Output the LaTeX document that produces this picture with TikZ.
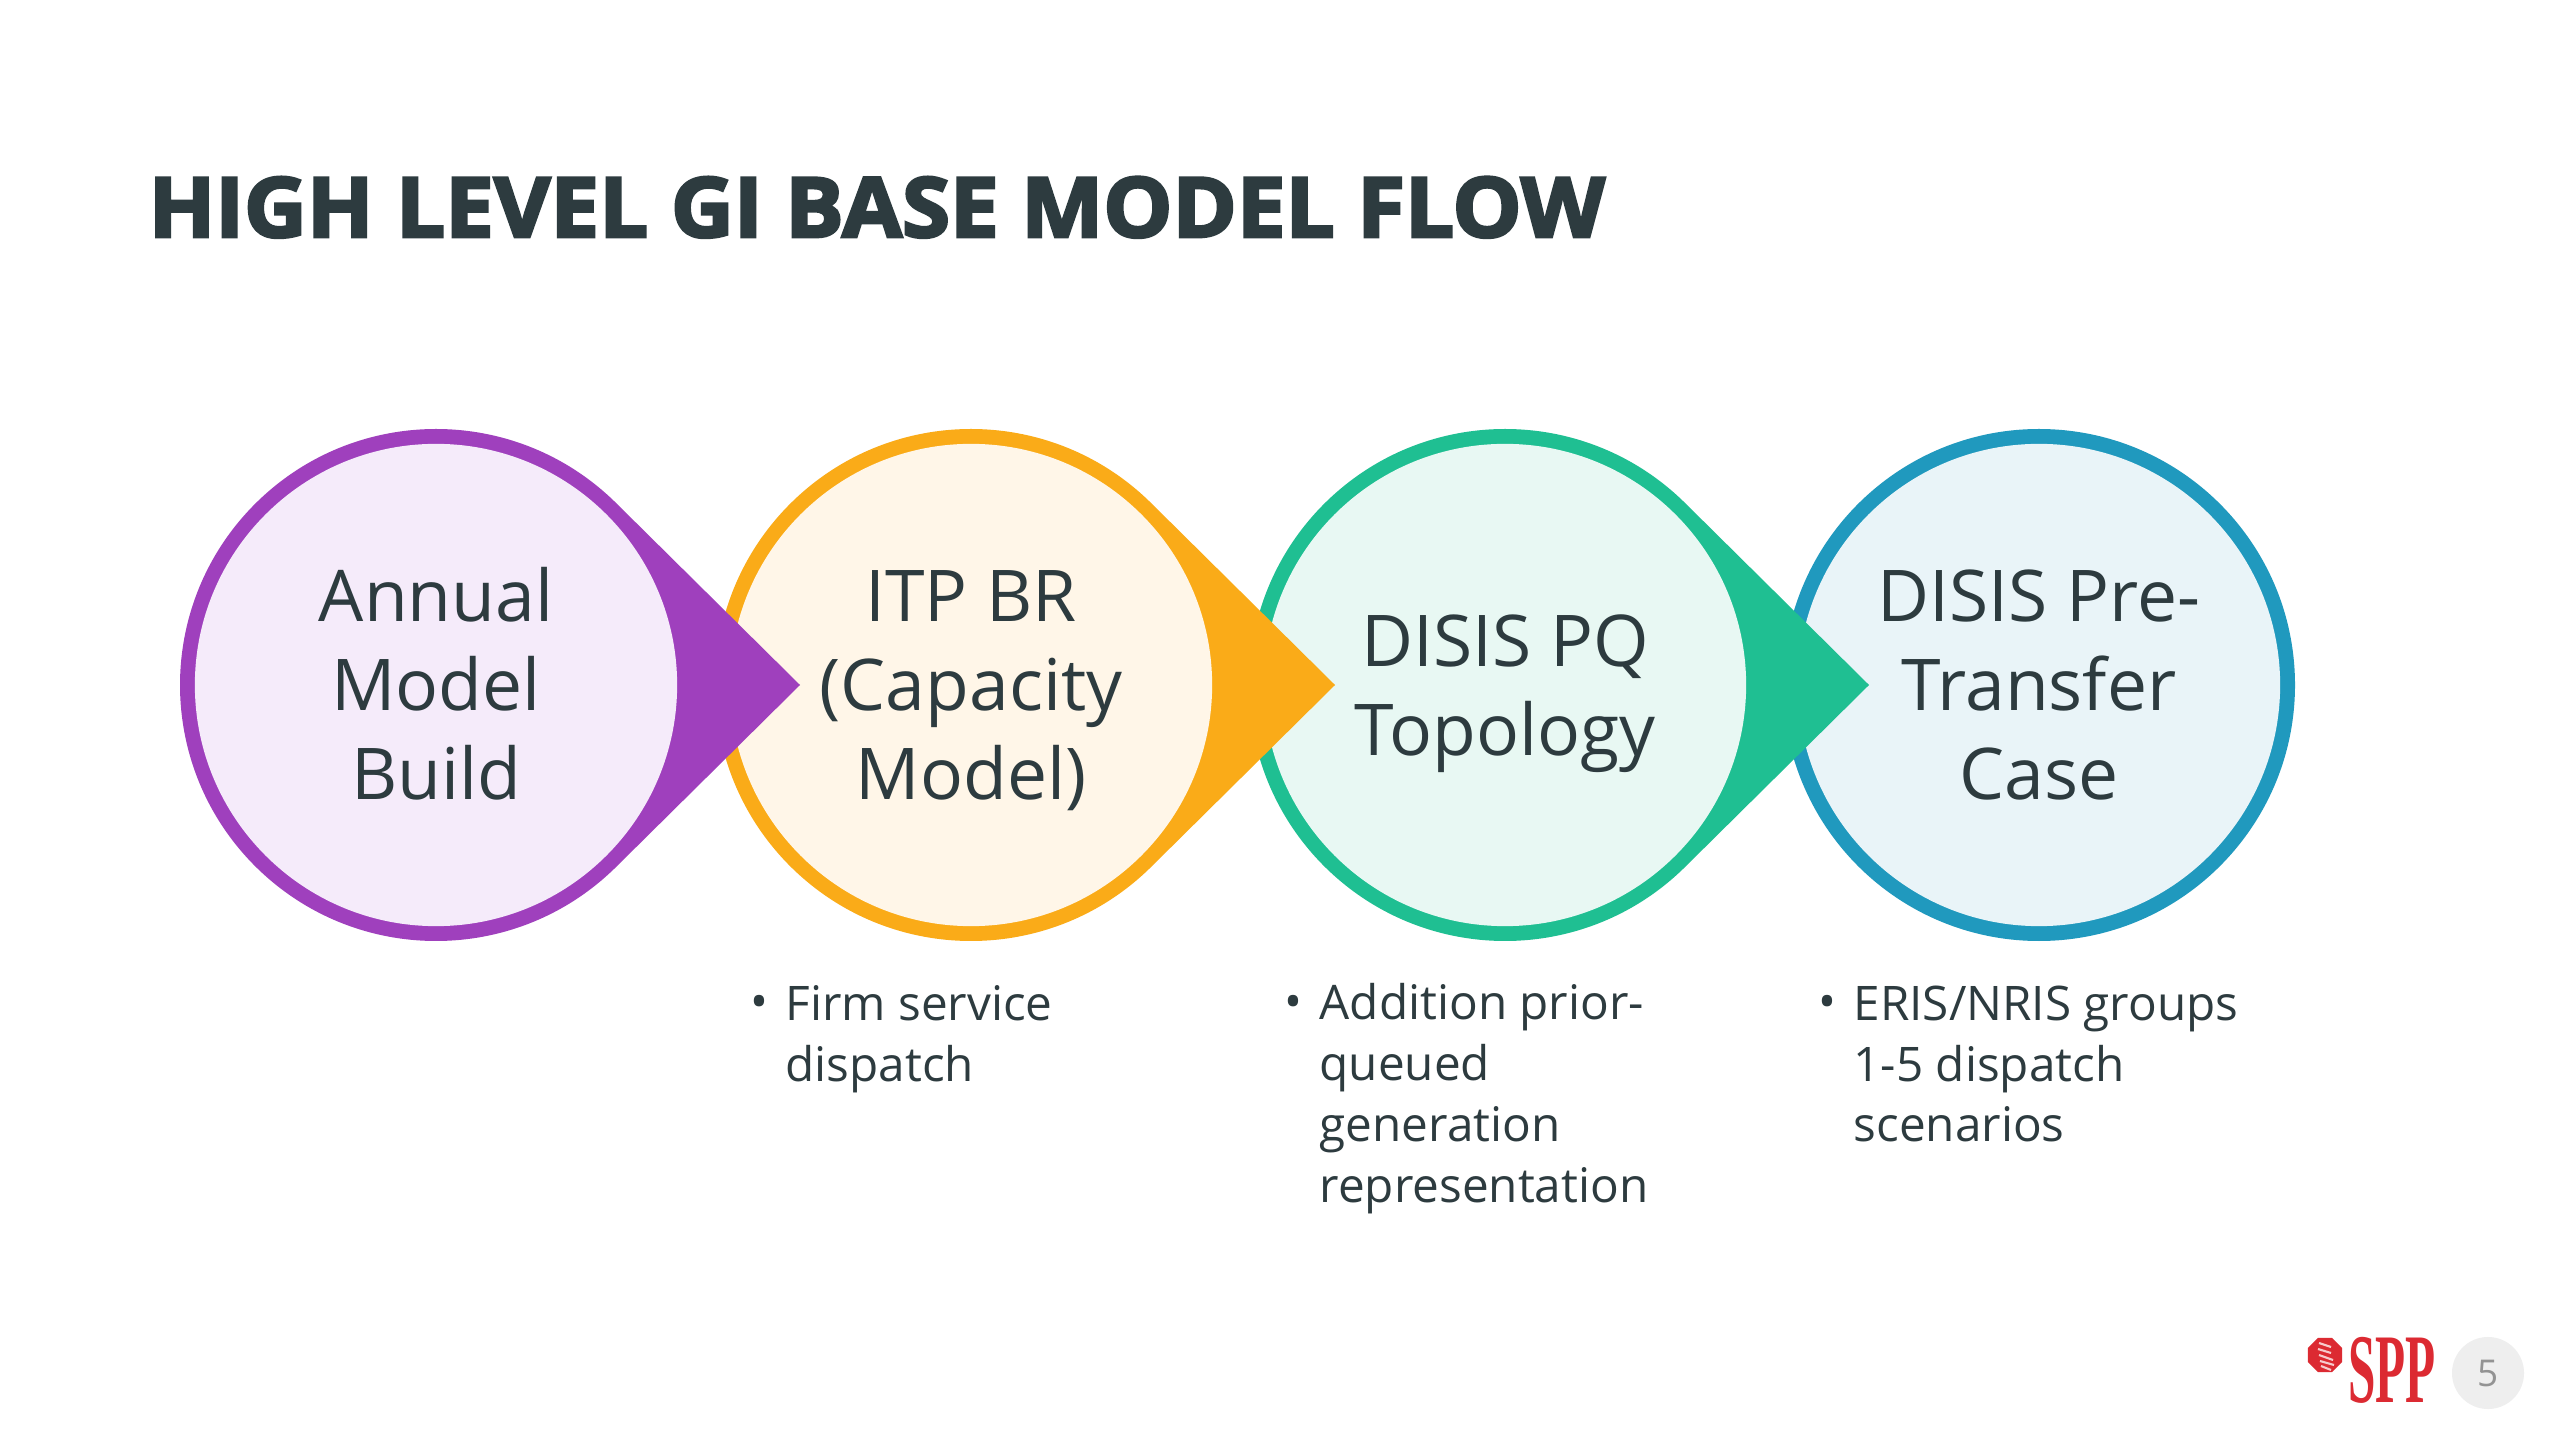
\documentclass[tikz,border=0pt]{standalone}
\usepackage{fontspec}
\usepackage{xcolor}
\usetikzlibrary{calc, shapes.geometric}
\setmainfont{Open Sans}
\newfontfamily\titlefont[BoldFeatures={FakeBold=3.4,FakeStretch=1.048}]{Open Sans}
\newfontfamily\logofont{Liberation Serif}
\definecolor{inkC}{HTML}{2D3B3F}
\definecolor{purpleC}{HTML}{9F40BD}
\definecolor{orangeC}{HTML}{FAAB18}
\definecolor{greenC}{HTML}{1FBF92}
\definecolor{blueC}{HTML}{2099BE}
\definecolor{purpleL}{HTML}{F5EBFA}
\definecolor{orangeL}{HTML}{FFF6E8}
\definecolor{greenL}{HTML}{E8F8F3}
\definecolor{blueL}{HTML}{E9F4F8}
\definecolor{logoC}{HTML}{DC2A32}
\tikzset{
  stepV/.style={circle, draw=none, inner sep=0pt, minimum size=4.82cm},
  stepT/.style={inner sep=0pt, align=center, text=inkC,
                font=\fontsize{20.3}{25.3}\selectfont},
  noteT/.style={anchor=north west, inner sep=0pt, align=left, text=inkC,
                font=\fontsize{13.55}{17.3}\selectfont},
  dotT/.style={anchor=base west, inner sep=0pt, text=inkC,
               font=\fontsize{13.55}{17.3}\selectfont},
}
\begin{document}
\begin{tikzpicture}[x=0.01cm, y=0.01cm]
    \useasboundingbox (0,0) rectangle (2560,-1440);
    \fill[white] (0,0) rectangle (2560,-1440);
    %% title
    \node[anchor=base west, inner sep=0pt, text=inkC,
          font=\fontsize{23.6}{28}\titlefont\bfseries] (title) at (148,-237)
          {HIGH LEVEL GI BASE MODEL FLOW};
    %% last circle has no point
    \fill[blueC] (2039,-685) circle (256);
    \node[stepV, fill=blueL] (pre) at (2039,-685) {};
    %% teardrops, right to left so each point lies over its neighbour
    \foreach \n/\x/\c/\l in {pq/1505/greenC/greenL,itp/971/orangeC/orangeL,annual/436/purpleC/purpleL}{
      \fill[\c] ($(\x,-685)+(45:256)$) -- (\x+364,-685) -- ($(\x,-685)+(-45:256)$)
        arc[start angle=-45, end angle=-315, radius=256] -- cycle;
      \node[stepV, fill=\l] (\n) at (\x,-685) {};
    }
    %% circle texts
    \node[stepT, yshift=0.01cm] (annualT) at (annual) {Annual\\Model\\Build};
    \node[stepT, yshift=-0.06cm] (itpT) at (itp) {ITP BR\\(Capacity\\Model)};
    \node[stepT, yshift=-0.09cm] (pqT) at (pq) {DISIS PQ\\Topology};
    \node[stepT] (preT) at (pre) {DISIS Pre-\\Transfer\\Case};
    %% notes
    \node[noteT] (firm) at (785,-985) {Firm service\\dispatch};
    \node[noteT] (addition) at (1319,-983) {Addition prior-\\queued\\generation\\representation};
    \node[noteT] (eris) at (1853,-985) {ERIS/NRIS groups\\1-5 dispatch\\scenarios};
    \foreach \n/\x in {firm/750,addition/1284,eris/1818}{
      \node[dotT] (dot\n) at (\x,-1018) {•};
    }
    %% logo and page number
    \node[regular polygon, regular polygon sides=8, fill=logoC, inner sep=0pt,
          minimum size=0.37cm] (badge) at (2325,-1355) {};
    \draw[white!75!logoC, line width=0.6pt] (2319,-1343) -- (2331,-1347) (2318,-1349) -- (2331,-1353)
      (2319,-1355) -- (2333,-1360) (2320,-1361) -- (2334,-1365) (2321,-1366) -- (2331,-1370);
    \node[anchor=base west, inner sep=0pt, xscale=0.5, text=logoC,
          font=\fontsize{28}{30}\logofont\bfseries] (logo) at (2348,-1402) {SPP};
    \node[circle, fill=gray!13, inner sep=0pt, minimum size=0.72cm, text=gray!85,
          font=\fontsize{10.5}{12}\selectfont] (page) at (2488,-1373) {5};
\end{tikzpicture}
\end{document}
